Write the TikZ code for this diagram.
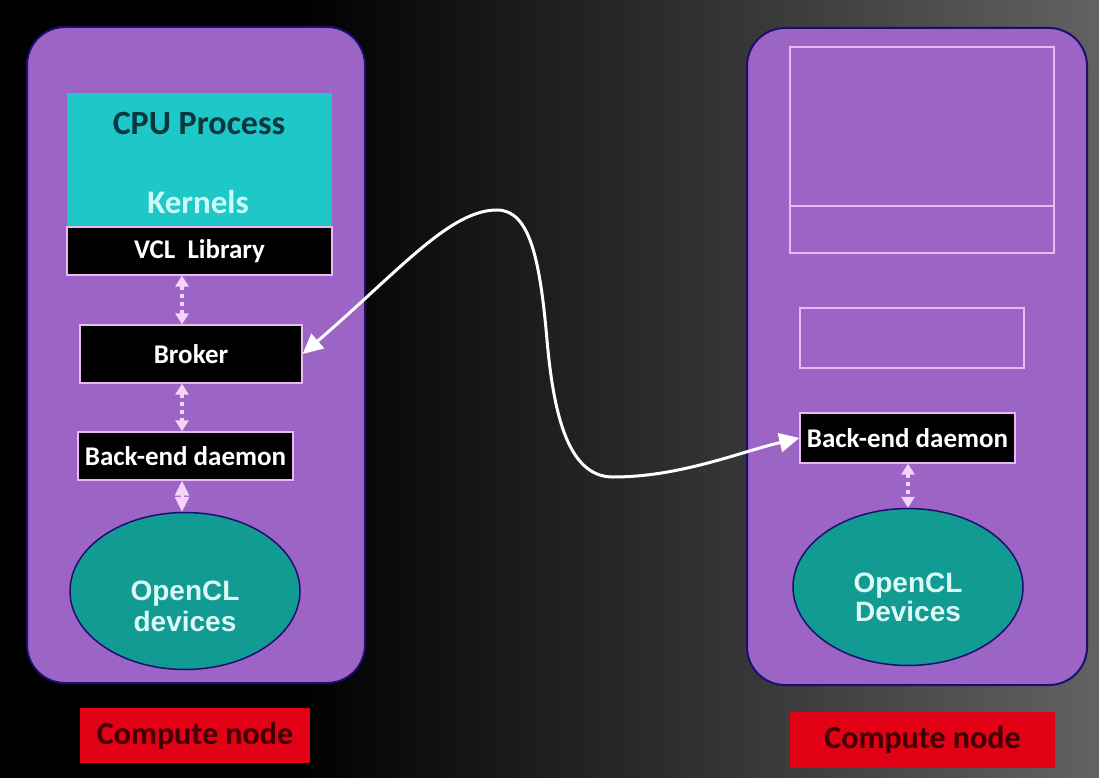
\documentclass[tikz,border=0pt]{standalone}
\usepackage{fontspec}
\setmainfont{Carlito}
\newfontfamily\arl{Liberation Sans}
\usetikzlibrary{arrows.meta,shapes.geometric}
\definecolor{bgpurple}{RGB}{156,100,196}
\definecolor{navy}{RGB}{28,14,110}
\definecolor{cyanbox}{RGB}{30,200,200}
\definecolor{cputext}{RGB}{8,55,62}
\definecolor{kerntext}{RGB}{205,250,250}
\definecolor{pinkline}{RGB}{232,185,245}
\definecolor{arrpink}{RGB}{245,212,250}
\definecolor{tealell}{RGB}{18,155,146}
\definecolor{elltext}{RGB}{220,250,245}
\definecolor{redbox}{RGB}{225,0,20}
\definecolor{redtext}{RGB}{62,0,4}
\definecolor{bggray}{RGB}{98,98,98}
\definecolor{bgmid}{RGB}{30,30,30}
\begin{document}
\begin{tikzpicture}[x=1pt,y=-1pt,
  panel/.style={draw=navy, line width=2pt, fill=bgpurple, rounded corners=38pt},
  blackbox/.style={draw=pinkline, line width=1.3pt, fill=black, text=white,
    font=\bfseries\fontsize{27}{30}\selectfont, inner sep=0pt},
  outlinebox/.style={draw=pinkline, line width=1.5pt},
  devell/.style={ellipse, draw=navy, line width=1.5pt, fill=tealell, inner sep=0pt},
  elltxt/.style={text=elltext, font=\arl\bfseries\fontsize{28}{31}\selectfont, align=center},
  redlabel/.style={fill=redbox, text=redtext, font=\bfseries\fontsize{32}{36}\selectfont, inner sep=0pt},
  dasharrow/.style={draw=arrpink, line width=3.5pt, dash pattern=on 4pt off 4pt,
    {Triangle[length=11pt,width=13pt]}-{Triangle[length=11pt,width=13pt]}},
  solidarrow/.style={draw=arrpink, line width=3pt,
    {Triangle[length=15pt,width=14pt]}-{Triangle[length=15pt,width=14pt]}},
  bigarrow/.style={draw=white, line width=3pt,
    {Triangle[length=20pt,width=19pt]}-{Triangle[length=20pt,width=19pt]}}
]
\useasboundingbox (0,0) rectangle (1099,778);
% background
\fill[black] (0,0) rectangle (1099,778);
\shade[left color=black, middle color=bgmid, right color=bggray] (300,0) rectangle (1099,778);

% panels
\draw[panel] (27,27) rectangle (365,683);
\draw[panel] (747,28) rectangle (1087,685);

% left stack
\node[fill=cyanbox, minimum width=265pt, minimum height=134pt, inner sep=0pt] (cpu) at (199.5,160) {};
\node[text=cputext, font=\bfseries\fontsize{34}{40}\selectfont] (cputitle) at (199,123) {CPU Process};
\node[text=kerntext, font=\bfseries\fontsize{33}{40}\selectfont] (kernels) at (198,202) {Kernels};
\node[blackbox, minimum width=265pt, minimum height=48pt] (vcl) at (199.5,251) {VCL\ \ Library};
\node[blackbox, minimum width=222pt, minimum height=58pt] (broker) at (191,354) {Broker};
\node[blackbox, minimum width=215pt, minimum height=48pt] (backL) at (185.5,456) {Back-end daemon};
\node[devell, minimum width=230pt, minimum height=157pt] (ellL) at (185,591) {};
\node[elltxt] (ellLtext) at (185,606) {OpenCL\\devices};
\node[redlabel, minimum width=230pt, minimum height=55pt] (compL) at (195,735.5) {Compute node};

% right stack
\draw[outlinebox] (790,47) rectangle (1054,253);
\draw[outlinebox] (790,206) -- (1054,206);
\draw[outlinebox] (800,308) rectangle (1024,368);
\node[blackbox, minimum width=215pt, minimum height=50pt] (backR) at (907.5,438) {Back-end daemon};
\node[devell, minimum width=230pt, minimum height=157pt] (ellR) at (908,587) {};
\node[elltxt, font=\arl\bfseries\fontsize{28}{29}\selectfont] (ellRtext) at (908,597) {OpenCL\\Devices};
\node[redlabel, minimum width=265pt, minimum height=56pt] (compR) at (922.5,740) {Compute node};

% connectors
\coordinate (axL) at (182,0);
\draw[dasharrow] (vcl.south -| axL) -- (broker.north -| axL);
\draw[dasharrow] (broker.south -| axL) -- (backL.north -| axL);
\draw[solidarrow] (backL.south -| axL) -- (ellL.north -| axL);
\draw[dasharrow] (backR.south -| ellR.north) -- (ellR.north);

\draw[bigarrow] (broker.east) .. controls (400,270) and (450,210) .. (497,210)
  .. controls (530,210) and (540,260) .. (547,340)
  .. controls (554,420) and (570,477) .. (613,477)
  .. controls (680,477) and (740,452) .. (backR.west);
\end{tikzpicture}
\end{document}
